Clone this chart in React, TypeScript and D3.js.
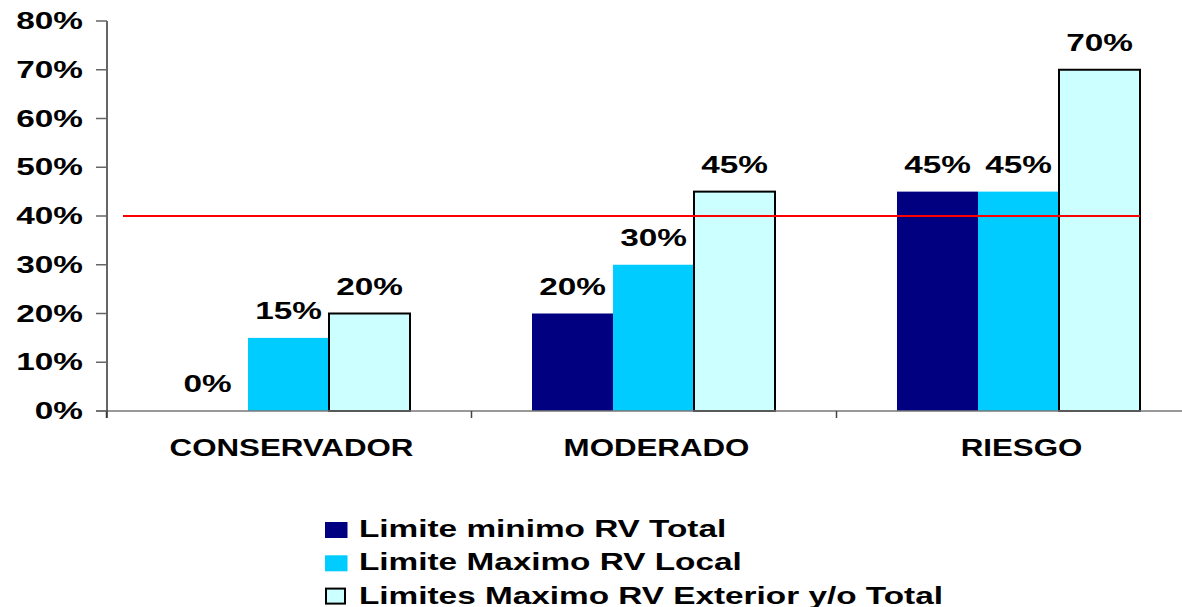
import React from "react";
import * as d3 from "d3";

const categories = ["CONSERVADOR", "MODERADO", "RIESGO"];
const seriesNames = [
  "Limite minimo RV Total",
  "Limite Maximo RV Local",
  "Limites Maximo RV Exterior y/o Total",
];
const minimoTotal = [0, 20, 45];
const maximoLocal = [15, 30, 45];
const maximoExterior = [20, 45, 70];
const seriesValues = [minimoTotal, maximoLocal, maximoExterior];
const yTicks = [0, 10, 20, 30, 40, 50, 60, 70, 80];
const referenceLine = 40;

const colors = ["#000080", "#00CCFF", "#CCFFFF"];
const strokes = ["none", "none", "#000"];

const W = 1182;
const H = 607;
const FONT = "'Liberation Sans', Arial, Helvetica, sans-serif";

function SText({ x, y, sx, anchor, children, size = 23 }: any) {
  return (
    <text
      transform={`translate(${x},${y}) scale(${sx},1)`}
      textAnchor={anchor}
      fontFamily={FONT}
      fontWeight="bold"
      fontSize={size}
      fill="#000"
    >
      {children}
    </text>
  );
}

export default function App() {
  const x0 = d3.scaleBand().domain(categories).range([106, 1201]).padding(0);
  const x1 = d3
    .scaleBand()
    .domain(seriesNames)
    .range([0, x0.bandwidth()])
    .paddingInner(0)
    .paddingOuter(0.753);
  const y = d3.scaleLinear().domain([0, 80]).range([411, 21]);
  const axisX = 107;

  const lastBarRight =
    (x0(categories[categories.length - 1]) as number) +
    (x1(seriesNames[2]) as number) +
    x1.bandwidth();

  return (
    <svg
      width={W}
      height={H}
      style={{ position: "absolute", left: 0, top: 0, background: "#fff" }}
    >
      {/* bars */}
      {categories.map((c, ci) =>
        seriesNames.map((s, si) => {
          const v = seriesValues[si][ci];
          const bx = (x0(c) as number) + (x1(s) as number);
          const bw = x1.bandwidth();
          return (
            <g key={c + s}>
              {v > 0 && (
                <rect
                  x={bx}
                  y={y(v)}
                  width={bw}
                  height={y(0) - y(v)}
                  fill={colors[si]}
                  stroke={strokes[si]}
                  strokeWidth={2}
                />
              )}
            </g>
          );
        })
      )}

      {/* x axis */}
      <line x1={96} x2={W} y1={y(0)} y2={y(0)} stroke="#777" strokeWidth={1.5} />
      {categories.map((c) => (
        <line
          key={c}
          x1={(x0(c) as number) + 0.5}
          x2={(x0(c) as number) + 0.5}
          y1={y(0)}
          y2={y(0) + 7}
          stroke="#444"
          strokeWidth={1.5}
        />
      ))}
      {/* y axis */}
      <line x1={axisX} x2={axisX} y1={y(80)} y2={y(0) + 7} stroke="#333" strokeWidth={1.5} />
      {yTicks.map((t) => (
        <g key={t}>
          <line x1={96} x2={axisX} y1={y(t)} y2={y(t)} stroke="#666" strokeWidth={1.5} />
          <SText x={83} y={y(t) + 8} sx={1.45} anchor="end">
            {t}%
          </SText>
        </g>
      ))}

      {/* reference line */}
      <line
        x1={123}
        x2={lastBarRight}
        y1={y(referenceLine)}
        y2={y(referenceLine)}
        stroke="#FF0000"
        strokeWidth={2}
      />

      {/* value labels */}
      {categories.map((c, ci) =>
        seriesNames.map((s, si) => {
          const v = seriesValues[si][ci];
          const cx = (x0(c) as number) + (x1(s) as number) + x1.bandwidth() / 2;
          return (
            <SText key={"l" + c + s} x={cx} y={y(v) - 19} sx={1.45} anchor="middle">
              {v}%
            </SText>
          );
        })
      )}

      {/* category labels */}
      {categories.map((c) => (
        <SText
          key={"c" + c}
          x={(x0(c) as number) + x0.bandwidth() / 2 + 3}
          y={456}
          sx={1.36}
          anchor="middle"
        >
          {c}
        </SText>
      ))}

      {/* legend */}
      {seriesNames.map((s, i) => (
        <g key={"lg" + s} transform={`translate(0,${i * 33.3})`}>
          {i < 2 ? (
            <rect x={325} y={522} width={22.5} height={16} fill={colors[i]} />
          ) : (
            <rect
              x={326}
              y={522}
              width={19}
              height={15}
              fill={colors[i]}
              stroke="#000"
              strokeWidth={2}
            />
          )}
          <SText x={359} y={537} sx={1.45} anchor="start">
            {s}
          </SText>
        </g>
      ))}
    </svg>
  );
}
